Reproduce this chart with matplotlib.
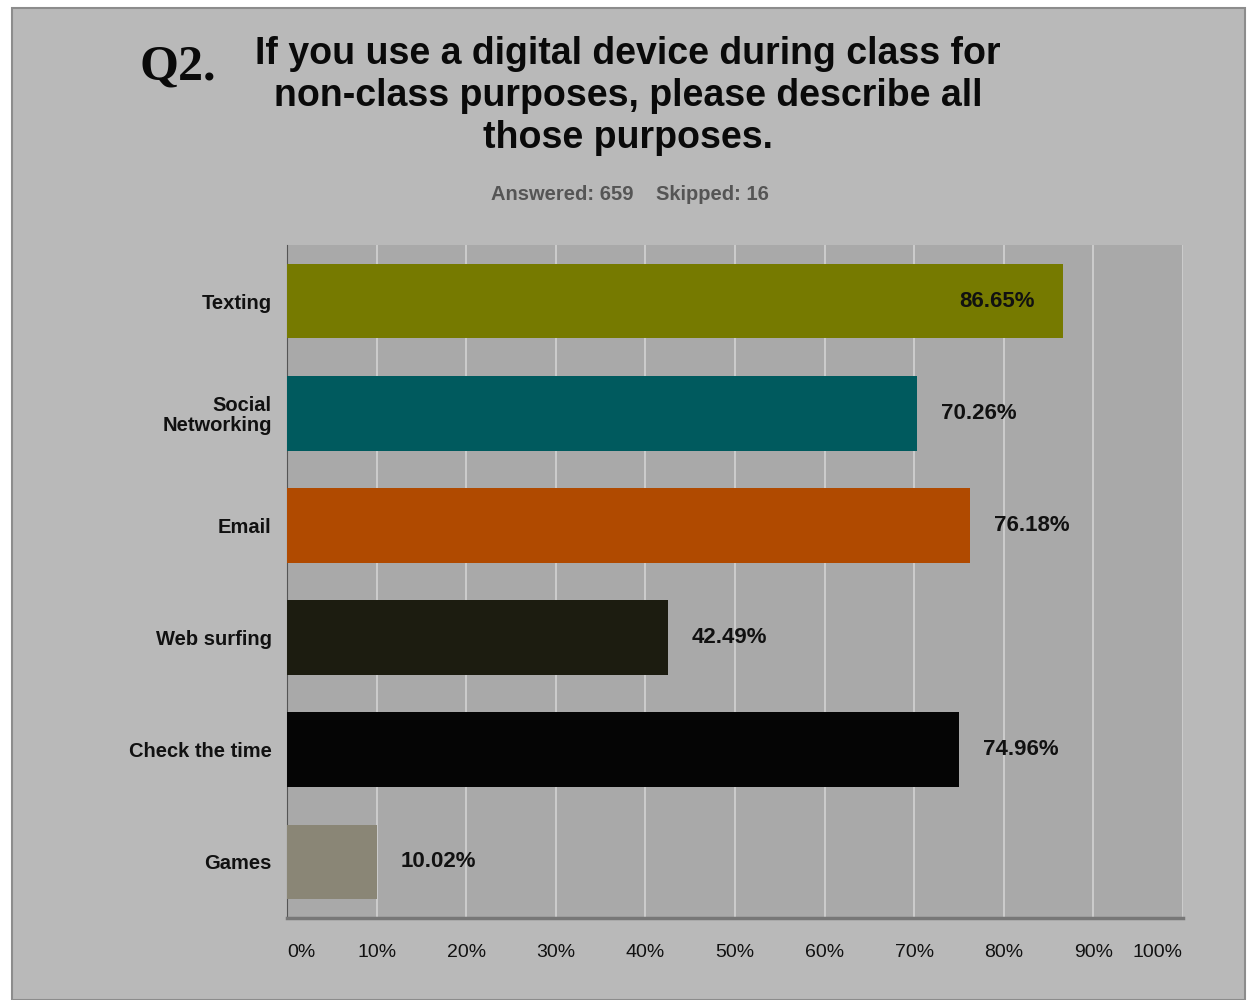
import matplotlib
matplotlib.use("Agg")
import matplotlib.pyplot as plt
from matplotlib.patches import Rectangle

categories = ["Texting", "Social\nNetworking", "Email", "Web surfing", "Check the time", "Games"]
values = [86.65, 70.26, 76.18, 42.49, 74.96, 10.02]
value_labels = ["86.65%", "70.26%", "76.18%", "42.49%", "74.96%", "10.02%"]
colors = ["#767a00", "#005a5e", "#b04a00", "#1c1c10", "#050505", "#8a8676"]
tick_values = [0, 10, 20, 30, 40, 50, 60, 70, 80, 90, 100]
tick_labels = ["0%", "10%", "20%", "30%", "40%", "50%", "60%", "70%", "80%", "90%", "100%"]

W, H = 1248, 1000
fig = plt.figure(figsize=(W / 100, H / 100), dpi=100, facecolor="white")

# outer panel
fig.patches.append(Rectangle((12 / W, 0), (1245 - 12) / W, 1 - 8 / H,
                             transform=fig.transFigure, facecolor="#b9b9b9",
                             edgecolor="#8c8c8c", linewidth=1.5, zorder=-5))

ax = fig.add_axes([287 / W, 1 - 918 / H, (1183 - 287) / W, (918 - 245) / H])
ax.set_zorder(2)
ax.set_facecolor("#a9a9a9")
ypos = list(range(len(categories)))
ax.barh(ypos, values, height=0.665, color=colors, zorder=3)
ax.set_xlim(0, 100)
ax.set_ylim(len(categories) - 0.5, -0.5)

ax.set_xticks(tick_values)
ax.set_xticklabels(tick_labels, fontsize=14, color="#111111", family="Liberation Sans")
for i, lab in enumerate(ax.get_xticklabels()):
    if i == 0:
        lab.set_horizontalalignment("left")
    elif i == len(tick_values) - 1:
        lab.set_horizontalalignment("right")
ax.tick_params(axis="x", length=0, pad=19)
ax.set_yticks(ypos)
ax.set_yticklabels(categories, fontsize=14.5, fontweight="bold", family="Liberation Sans",
                   color="#111111", linespacing=1.05)
ax.tick_params(axis="y", length=0, pad=11)
ax.grid(axis="x", color="#d2d2d2", linewidth=1.2, zorder=1)
ax.set_axisbelow(True)
for s in ["top", "right"]:
    ax.spines[s].set_visible(False)
ax.spines["left"].set_color("#555555")
ax.spines["bottom"].set_color("#777777")
ax.spines["bottom"].set_linewidth(2.5)

for i, (v, t) in enumerate(zip(values, value_labels)):
    if v > 80:
        ax.annotate(t, (v, i), xytext=(-29, 0), textcoords="offset pixels",
                    ha="right", va="center", fontsize=16, fontweight="bold",
                    family="Liberation Sans", color="#111111", zorder=4)
    else:
        ax.annotate(t, (v, i), xytext=(24, 0), textcoords="offset pixels",
                    ha="left", va="center", fontsize=16, fontweight="bold",
                    family="Liberation Sans", color="#111111", zorder=4)

# Titles
fig.text(140 / W, 1 - 68 / H, "Q2.", fontsize=36, fontweight="bold",
         family="Liberation Serif", ha="left", va="center", color="#0a0a0a")
fig.text(628 / W, 1 - 96 / H,
         "If you use a digital device during class for\nnon-class purposes, please describe all\nthose purposes.",
         fontsize=27, fontweight="bold", family="Liberation Sans", ha="center", va="center",
         color="#0a0a0a", linespacing=1.2)
fig.text(630 / W, 1 - 194 / H, "Answered: 659    Skipped: 16", fontsize=14.5,
         fontweight="bold", family="Liberation Sans", ha="center", va="center", color="#555555")

fig.savefig("out.png", dpi=100, facecolor=fig.get_facecolor())
